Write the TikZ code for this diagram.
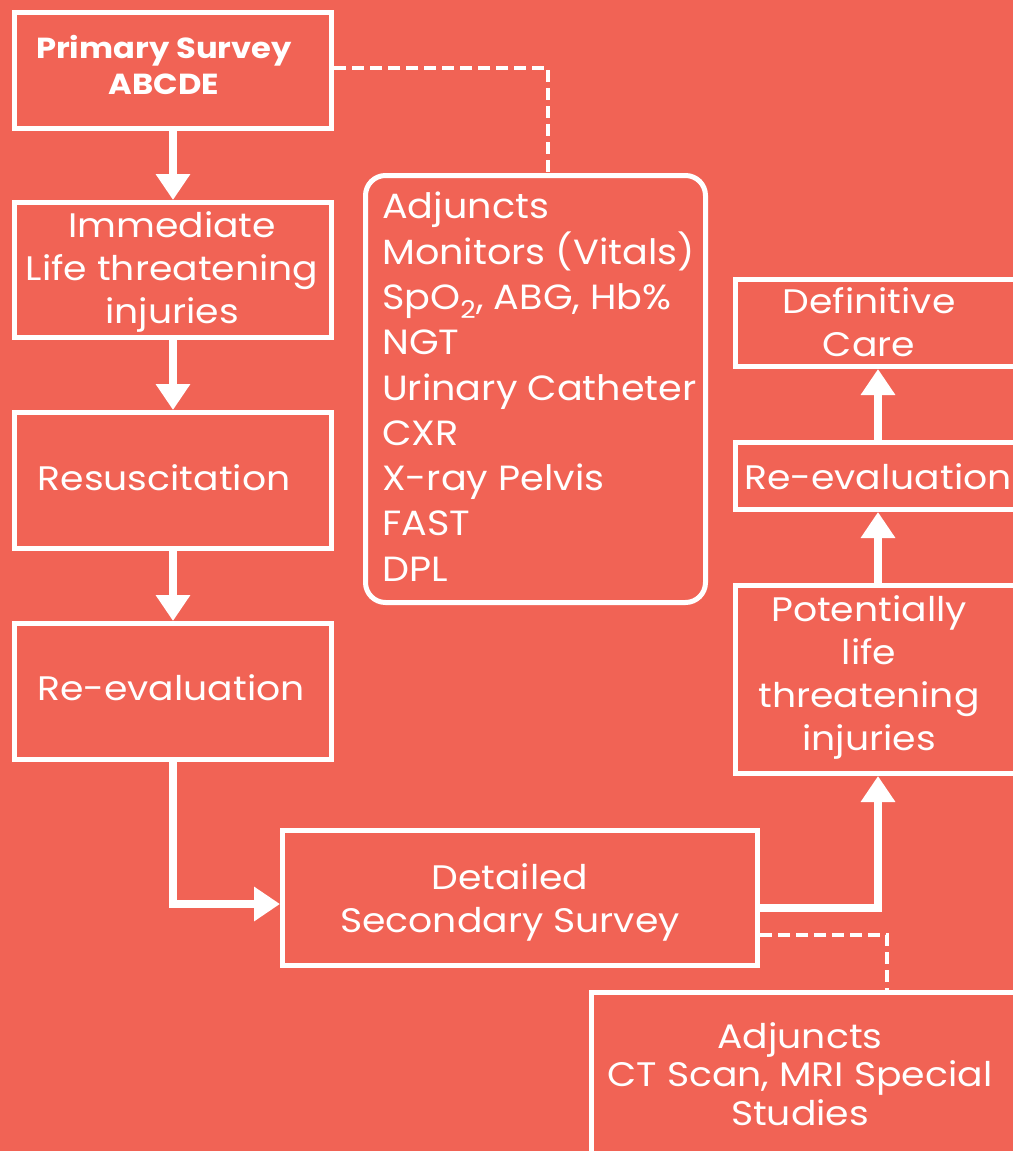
\documentclass[tikz,border=0pt]{standalone}
\usepackage{fontspec}
\setmainfont{Poppins}[FakeStretch=1.11]
\newfontfamily\adjfont{Poppins}[FakeStretch=1.09]
\usetikzlibrary{arrows.meta}
\definecolor{bg}{HTML}{F16355}
\begin{document}
\begin{tikzpicture}[x=1pt,y=-1pt,
  box/.style={draw=white, line width=5pt, inner sep=0pt, fill=none},
  txt/.style={text=white, align=center, inner sep=0pt, font=\fontsize{34}{43}\selectfont},
  arr/.style={draw=white, line width=8pt, -{Triangle[width=33pt,length=26pt]}},
  dsh/.style={draw=white, line width=4pt, dash pattern=on 12pt off 6pt}]
\useasboundingbox (0,0) rectangle (1013,1151);
\fill[bg] (0,0) rectangle (1013,1151);
\clip (0,0) rectangle (1013,1151);
% left column
\node[box, minimum width=317pt, minimum height=116pt] (p1) at (173,70.5) {};
\node[txt, font=\fontsize{29}{36}\selectfont\bfseries] (p1t) at (164,65) {Primary Survey\\ABCDE};
\node[box, minimum width=317pt, minimum height=135pt] (imm) at (173,270) {};
\node[txt] (immt) at (172,272) {Immediate\\Life threatening\\injuries};
\node[box, minimum width=317pt, minimum height=136pt] (res) at (173,480.5) {};
\node[txt] (rest) at (164,478) {Resuscitation};
\node[box, minimum width=317pt, minimum height=136pt] (re1) at (173,691.5) {};
\node[txt] (re1t) at (171,688) {Re-evaluation};
% adjuncts
\node[box, rounded corners=20pt, minimum width=340pt, minimum height=427pt] (adj) at (535.5,389) {};
\node[txt, align=left, anchor=north west, font=\adjfont\fontsize{35}{45.3}\selectfont] (adjt) at (382,192)
 {Adjuncts\\Monitors (Vitals)\\SpO\textsubscript{2}, ABG, Hb\%\\NGT\\Urinary Catheter\\CXR\\X-ray Pelvis\\FAST\\DPL};
% right column
\node[box, minimum width=285pt, minimum height=87pt] (def) at (878,323) {};
\node[txt] (deft) at (869,322) {Definitive\\Care};
\node[box, minimum width=285pt, minimum height=67pt] (re2) at (878,476) {};
\node[txt] (re2t) at (878,477) {Re-evaluation};
\node[box, minimum width=285pt, minimum height=188pt] (pot) at (878,679.5) {};
\node[txt] (pott) at (869,677) {Potentially\\life\\threatening\\injuries};
% bottom
\node[box, minimum width=475pt, minimum height=135pt] (det) at (520,898) {};
\node[txt] (dett) at (510,902) {Detailed\\Secondary Survey};
\node[box, minimum width=591pt, minimum height=175pt] (ct) at (887,1080) {};
\node[txt, font=\fontsize{34}{38.5}\selectfont] (ctt) at (800,1074) {Adjuncts\\CT Scan, MRI Special\\Studies};
% connectors
\draw[arr] (p1.south) -- (imm.north);
\draw[arr] (imm.south) -- (res.north);
\draw[arr] (res.south) -- (re1.north);
\draw[arr] (re1.south) |- ([yshift=-6pt]det.west);
\draw[arr] ([yshift=-10pt]det.east) -| (pot.south);
\draw[arr] (pot.north) -- (re2.south);
\draw[arr] (re2.north) -- (def.south);
\draw[dsh] ([yshift=2.5pt]p1.east) -| ([xshift=12.5pt]adj.north);
\draw[dsh] ([yshift=-37pt]det.east) -| (ct.north);
\end{tikzpicture}
\end{document}
